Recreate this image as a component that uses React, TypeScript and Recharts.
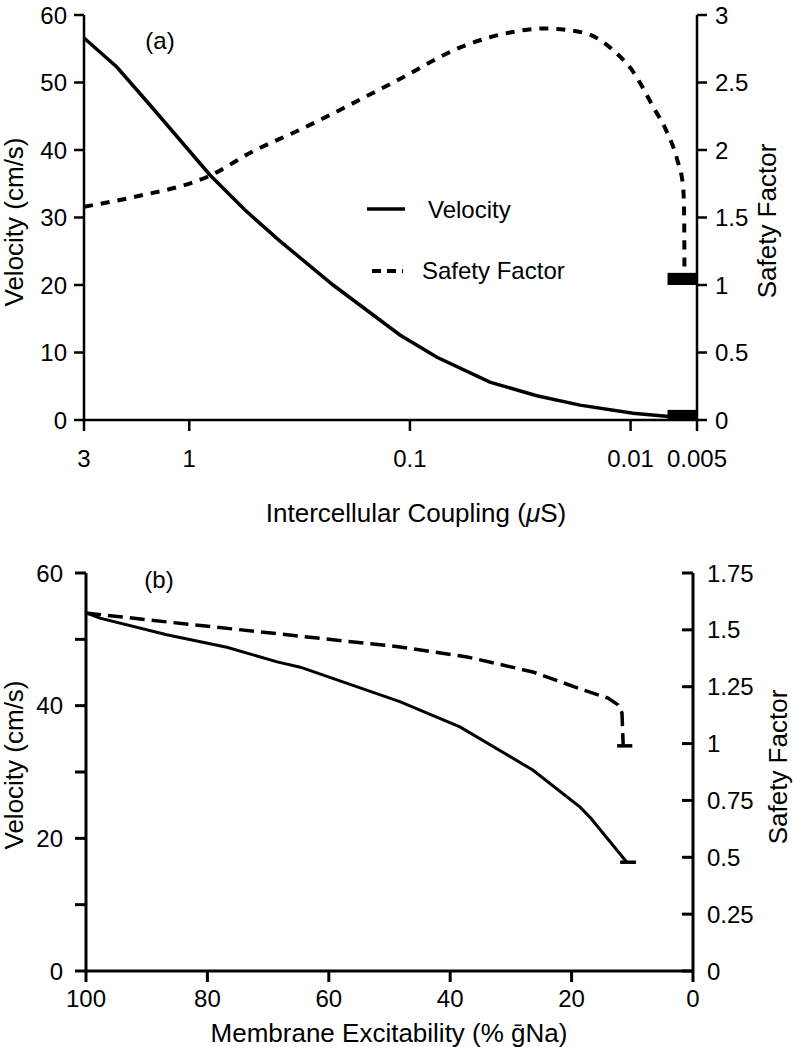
import React from 'react';
import { LineChart, Line, XAxis, YAxis, ReferenceArea, ReferenceLine, Legend, Label } from 'recharts';

const FONT = '"Liberation Sans", Arial, Helvetica, sans-serif';

// ---------- Panel (a): Intercellular coupling ----------
const couplingVelA = [3, 2.13, 1.51, 0.806, 0.559, 0.388, 0.223, 0.111, 0.0754, 0.0434, 0.0266, 0.01695, 0.00974, 0.00615, 0.00537];
const velocityA = [56.6, 52.3, 46.7, 36.3, 31.1, 26.5, 20.0, 12.6, 9.3, 5.6, 3.6, 2.2, 1.0, 0.4, 0.2];
const couplingSfA = [3, 1.8, 0.806, 0.514, 0.315, 0.119, 0.0551, 0.0352, 0.0249, 0.0164, 0.012, 0.00974, 0.0079, 0.00683, 0.00615, 0.00578, 0.00572, 0.0057];
const safetyA = [1.58, 1.65, 1.81, 1.99, 2.15, 2.5, 2.78, 2.87, 2.9, 2.87, 2.74, 2.58, 2.32, 2.13, 1.93, 1.73, 1.53, 1.13];
const couplingTicksA = [3, 1, 0.1, 0.01, 0.005];
const velocityTicksA = [0, 10, 20, 30, 40, 50, 60];
const safetyTicksA = [0, 0.5, 1, 1.5, 2, 2.5, 3];
const blockXA = [0.0068, 0.005];
const blockVelA = [0, 1.5];
const blockSfA = [1.0, 1.09];

// ---------- Panel (b): Membrane excitability ----------
const excitVelB = [100, 97.7, 86.7, 76.8, 68.5, 64.7, 48.3, 38.4, 26.4, 18.6, 17.0, 10.9];
const velocityB = [54.0, 53.2, 50.7, 48.8, 46.6, 45.8, 40.6, 36.8, 30.3, 24.7, 23.2, 16.4];
const excitSfB = [100, 86.7, 75.8, 48.3, 37.2, 26.4, 18.1, 14.0, 12.35, 11.7, 11.5];
const safetyB = [1.574, 1.535, 1.504, 1.425, 1.381, 1.315, 1.236, 1.2, 1.17, 1.135, 0.99];
const excitTicksB = [100, 80, 60, 40, 20, 0];
const velocityTicksB = [0, 10, 20, 30, 40, 50, 60];
const safetyTicksB = [0, 0.25, 0.5, 0.75, 1, 1.25, 1.5, 1.75];
const blockSfB = { x: [12.5, 10.0], y: 0.99 };
const blockVelB = { x: [12.0, 9.4], y: 16.4 };

const velDataA = couplingVelA.map((x, i) => ({ x, v: velocityA[i] }));
const sfDataA = couplingSfA.map((x, i) => ({ x, s: safetyA[i] }));
const velDataB = excitVelB.map((x, i) => ({ x, v: velocityB[i] }));
const sfDataB = excitSfB.map((x, i) => ({ x, s: safetyB[i] }));

const fixedText = (x: number, y: number, content: React.ReactNode, size: number, rotate = false) => () => (
  <text
    x={x}
    y={y}
    fontSize={size}
    fontFamily={FONT}
    fill="#000"
    textAnchor="middle"
    dominantBaseline={rotate ? 'central' : 'alphabetic'}
    transform={rotate ? `rotate(-90 ${x} ${y})` : undefined}
  >
    {content}
  </text>
);

const tickStyle = { fill: '#000', fontSize: 24, fontFamily: FONT };

const LegendA = () => (
  <svg width={793} height={540} style={{ position: 'absolute', left: 0, top: 0, overflow: 'visible' }}>
    <line x1={367} x2={405} y1={209} y2={209} stroke="#000" strokeWidth={3.5} />
    <text x={428} y={218} fontSize={24} fontFamily={FONT} fill="#000">Velocity</text>
    <line x1={372} x2={403} y1={271} y2={271} stroke="#000" strokeWidth={4} strokeDasharray="9 6" />
    <text x={422} y={279} fontSize={24} fontFamily={FONT} fill="#000">Safety Factor</text>
  </svg>
);

const RIGHT_GAP_B = 14;
const RightTickB = (props: any) => {
  const { x, y, payload } = props;
  const axisX = x - RIGHT_GAP_B;
  return (
    <g>
      <line x1={axisX - 11} x2={axisX} y1={y} y2={y} stroke="#000" strokeWidth={3} />
      <text x={x} y={y} dy="0.355em" textAnchor="start" fontSize={24} fontFamily={FONT} fill="#000">
        {String(payload.value)}
      </text>
    </g>
  );
};

export default function App() {
  return (
    <div style={{ position: 'absolute', left: 0, top: 0, width: 793, height: 1047, background: '#fff', fontFamily: FONT }}>
      <div style={{ position: 'absolute', left: 0, top: 0 }}>
        <LineChart width={793} height={540} margin={{ top: 15, right: 0, bottom: 0, left: 0 }}>
          <XAxis
            type="number"
            dataKey="x"
            scale="log"
            domain={[0.005, 3]}
            allowDataOverflow
            reversed
            ticks={couplingTicksA}
            interval={0}
            height={120}
            tickSize={11}
            tickMargin={19}
            tick={tickStyle}
            axisLine={{ stroke: '#000', strokeWidth: 2.5 }}
            tickLine={{ stroke: '#000', strokeWidth: 2.5 }}
            label={<Label content={fixedText(416, 522, <>Intercellular Coupling (<tspan fontStyle="italic">μ</tspan>S)</>, 26)} />}
          >
            <Label content={fixedText(160, 49, '(a)', 24)} />
          </XAxis>
          <YAxis
            yAxisId="v"
            orientation="left"
            width={84}
            domain={[0, 60]}
            ticks={velocityTicksA}
            interval={0}
            tickSize={10}
            tickMargin={7}
            tick={tickStyle}
            axisLine={{ stroke: '#000', strokeWidth: 2.5 }}
            tickLine={{ stroke: '#000', strokeWidth: 2.5 }}
            label={<Label content={fixedText(14, 222, 'Velocity (cm/s)', 26, true)} />}
          />
          <YAxis
            yAxisId="sf"
            orientation="right"
            width={96}
            domain={[0, 3]}
            ticks={safetyTicksA}
            interval={0}
            tickSize={10}
            tickMargin={8}
            tick={tickStyle}
            axisLine={{ stroke: '#000', strokeWidth: 2.5 }}
            tickLine={{ stroke: '#000', strokeWidth: 2.5 }}
            label={<Label content={fixedText(767, 221, 'Safety Factor', 26, true)} />}
          />
          <Legend layout="vertical" align="center" verticalAlign="middle" wrapperStyle={{ left: 0, top: 0, width: 793, height: 540 }} content={LegendA} />
          <Line yAxisId="sf" data={sfDataA} dataKey="s" type="monotone" stroke="#000" strokeWidth={4} strokeDasharray="9 8" dot={false} isAnimationActive={false} legendType="none" />
          <Line yAxisId="v" data={velDataA} dataKey="v" type="linear" stroke="#000" strokeWidth={3.5} dot={false} isAnimationActive={false} legendType="none" />
          <ReferenceArea yAxisId="v" x1={blockXA[0]} x2={blockXA[1]} y1={blockVelA[0]} y2={blockVelA[1]} fill="#000" fillOpacity={1} stroke="none" ifOverflow="visible" />
          <ReferenceArea yAxisId="sf" x1={blockXA[0]} x2={blockXA[1]} y1={blockSfA[0]} y2={blockSfA[1]} fill="#000" fillOpacity={1} stroke="none" ifOverflow="visible" />
        </LineChart>
      </div>
      <div style={{ position: 'absolute', left: 0, top: 540 }}>
        <LineChart width={793} height={507} margin={{ top: 33, right: 0, bottom: 0, left: 0 }}>
          <XAxis
            type="number"
            dataKey="x"
            domain={[0, 100]}
            reversed
            ticks={excitTicksB}
            interval={0}
            height={76}
            tickSize={11}
            tickMargin={8}
            tick={tickStyle}
            axisLine={{ stroke: '#000', strokeWidth: 3 }}
            tickLine={{ stroke: '#000', strokeWidth: 3 }}
            label={<Label content={fixedText(389, 502, 'Membrane Excitability (% ḡNa)', 26)} />}
          >
            <Label content={fixedText(159, 48, '(b)', 24)} />
          </XAxis>
          <YAxis
            yAxisId="v"
            orientation="left"
            width={86}
            domain={[0, 60]}
            ticks={velocityTicksB}
            interval={0}
            tickSize={11}
            tickMargin={12}
            tick={tickStyle}
            tickFormatter={(v: number) => (v % 20 === 0 ? String(v) : '')}
            axisLine={{ stroke: '#000', strokeWidth: 3 }}
            tickLine={{ stroke: '#000', strokeWidth: 3 }}
            label={<Label content={fixedText(14, 225, 'Velocity (cm/s)', 26, true)} />}
          />
          <YAxis
            yAxisId="sf"
            orientation="right"
            width={100}
            domain={[0, 1.75]}
            ticks={safetyTicksB}
            interval={0}
            tickSize={0}
            tickMargin={RIGHT_GAP_B}
            tick={<RightTickB />}
            tickLine={false}
            axisLine={{ stroke: '#000', strokeWidth: 3 }}
            label={<Label content={fixedText(778, 227, 'Safety Factor', 26, true)} />}
          />
          <Line yAxisId="sf" data={sfDataB} dataKey="s" type="linear" stroke="#000" strokeWidth={3.5} strokeDasharray="15 7" dot={false} isAnimationActive={false} />
          <Line yAxisId="v" data={velDataB} dataKey="v" type="linear" stroke="#000" strokeWidth={3} dot={false} isAnimationActive={false} />
          <ReferenceLine yAxisId="sf" segment={[{ x: blockSfB.x[0], y: blockSfB.y }, { x: blockSfB.x[1], y: blockSfB.y }]} stroke="#000" strokeWidth={3.5} />
          <ReferenceLine yAxisId="v" segment={[{ x: blockVelB.x[0], y: blockVelB.y }, { x: blockVelB.x[1], y: blockVelB.y }]} stroke="#000" strokeWidth={3.5} />
        </LineChart>
      </div>
    </div>
  );
}
